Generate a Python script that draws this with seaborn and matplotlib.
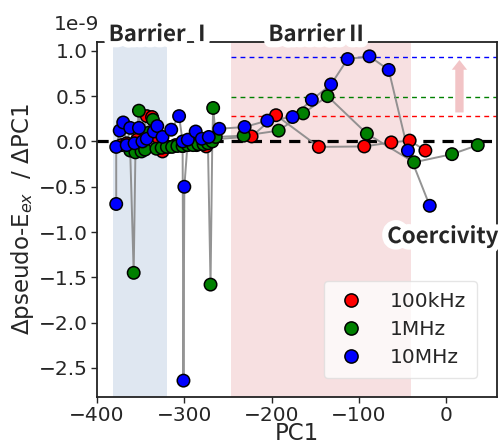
import numpy as np
import pandas as pd
import matplotlib
matplotlib.use("Agg")
import matplotlib.pyplot as plt
import matplotlib.patheffects as pe
import seaborn as sns

# ---- data (y in units of 1e-9) ----
red_x = [-372, -366, -360, -354, -348, -343, -337, -331, -325, -318, -310, -302, -294, -286, -280, -275, -270,
         -223, -195, -146, -94, -63, -42, -24]
red_y = [-0.04, -0.02, -0.05, 0.02, -0.03, 0.28, 0.27, 0.05, -0.11, -0.06, -0.04, -0.05, -0.03, -0.04, -0.02, -0.055, 0.02,
         0.056, 0.29, -0.06, -0.055, -0.01, 0.01, -0.10]

green_x = [-362, -358, -356, -352, -349, -345, -340, -336, -332, -326, -320, -314, -308, -302, -296, -290, -284,
           -278, -273, -270, -268, -267, -264, -232, -192, -164, -136, -91, -37, 6.5, 36]
green_y = [-0.10, -1.45, -0.12, 0.34, -0.11, -0.09, 0.10, 0.24, -0.08, -0.07, -0.06, -0.06, -0.05, -0.05, -0.04, -0.04, -0.03,
           -0.03, -0.02, -1.58, 0.00, 0.37, 0.05, 0.064, 0.12, 0.31, 0.50, 0.086, -0.23, -0.14, -0.04]

blue_x = [-378, -378, -374, -370, -366, -362, -357, -352, -348, -343, -335, -331, -325, -315, -306, -302, -301,
          -300, -296, -287, -280, -272, -260, -231, -205, -176, -154, -132, -113, -88, -66, -44, -19]
blue_y = [-0.69, -0.06, 0.12, 0.21, -0.04, 0.15, -0.02, 0.15, 0.00, 0.03, 0.11, 0.17, 0.05, 0.13, 0.28, 0.00, -2.64,
          -0.50, 0.02, 0.11, 0.03, 0.05, 0.14, 0.16, 0.23, 0.27, 0.46, 0.63, 0.91, 0.94, 0.79, -0.10, -0.71]

labels = ["100kHz", "1MHz", "10MHz"]
colors = ["red", "green", "blue"]
level_y = [0.277, 0.487, 0.933]

frames = []
for lab, xs, ys in zip(labels, [red_x, green_x, blue_x], [red_y, green_y, blue_y]):
    frames.append(pd.DataFrame({"PC1": xs, "dE": ys, "freq": lab, "order": np.arange(len(xs))}))
df = pd.concat(frames, ignore_index=True)

sns.set_style("ticks")
plt.rcParams["font.family"] = ["DejaVu Sans"]

fig = plt.figure(figsize=(5.0, 4.45), dpi=100)
ax = fig.add_axes([0.194, 0.108, 0.8, 0.798])

# shaded regions
ax.axvspan(-381.7, -320, color="#dfe7f1", zorder=0, lw=0)
ax.axvspan(-247, -41, color="#f7e0e1", zorder=0, lw=0)

# lines per series
sns.lineplot(data=df, x="PC1", y="dE", units="freq", estimator=None, sort=False,
             color="#888888", lw=1.4, alpha=0.9, ax=ax, zorder=2, legend=False)

# zero line & level lines
ax.axhline(0, color="black", ls=(0, (3.5, 2.5)), lw=2.3, zorder=1.5)
for c, ly in zip(colors, level_y):
    ax.plot([-247, 60], [ly, ly], color=c, ls=(0, (3.5, 3)), lw=1.0, zorder=1.6)

sns.scatterplot(data=df, x="PC1", y="dE", hue="freq", palette=dict(zip(labels, colors)),
                hue_order=labels, s=80, edgecolor="black", linewidth=1.1, ax=ax, zorder=3)

# arrow
ax.annotate("", xy=(15, 0.93), xytext=(15, 0.29),
            arrowprops=dict(arrowstyle="simple,head_width=1.1,head_length=0.7,tail_width=0.6",
                            color="#f2c4c6", lw=0), zorder=1.7)

ax.set_xlim(-400, 58)
ax.set_ylim(-2.82, 1.10)
ax.set_xticks([-400, -300, -200, -100, 0])
ax.set_yticks([-2.5, -2.0, -1.5, -1.0, -0.5, 0.0, 0.5, 1.0])
ax.tick_params(labelsize=14.5, length=4, width=1, pad=2.5)
for s in ax.spines.values():
    s.set_linewidth(1.3)
    s.set_color("#222222")

ax.set_xlabel("PC1", fontsize=16.5)
ax.xaxis.set_label_coords(0.5, -0.07)
ax.set_ylabel("Δpseudo-E$_{ex}$  / ΔPC1", fontsize=16.5, labelpad=2)
ax.text(-0.05, 1.048, "1e-9", transform=ax.transAxes, fontsize=14.5, ha="center", va="center")

glow = [pe.withStroke(linewidth=9, foreground="white")]
tfam = ["Noto Sans CJK JP", "DejaVu Sans"]
ax.text(-327, 1.18, "Barrier Ⅰ", fontsize=16, fontweight="bold", family=tfam,
        ha="center", va="center", path_effects=glow, zorder=5, clip_on=False)
ax.text(-147, 1.18, "BarrierⅡ", fontsize=16, fontweight="bold", family=tfam,
        ha="center", va="center", path_effects=glow, zorder=5, clip_on=False)
ax.text(-4, -1.05, "Coercivity", fontsize=16, fontweight="bold", family=tfam,
        ha="center", va="center", path_effects=glow, zorder=5, clip_on=False)

leg = ax.legend(loc="lower right", fontsize=14.5, frameon=True, handletextpad=1.1, handlelength=1.6,
                borderpad=0.55, labelspacing=0.45, bbox_to_anchor=(0.975, 0.025))
leg.get_frame().set_edgecolor("#dddddd")
leg.get_frame().set_alpha(0.75)
for h in leg.legend_handles:
    try:
        h.set_markeredgecolor("black")
        h.set_markeredgewidth(1.1)
        h.set_markersize(9.5)
    except AttributeError:
        h.set_edgecolor("black")

fig.savefig("out.png", dpi=100)
